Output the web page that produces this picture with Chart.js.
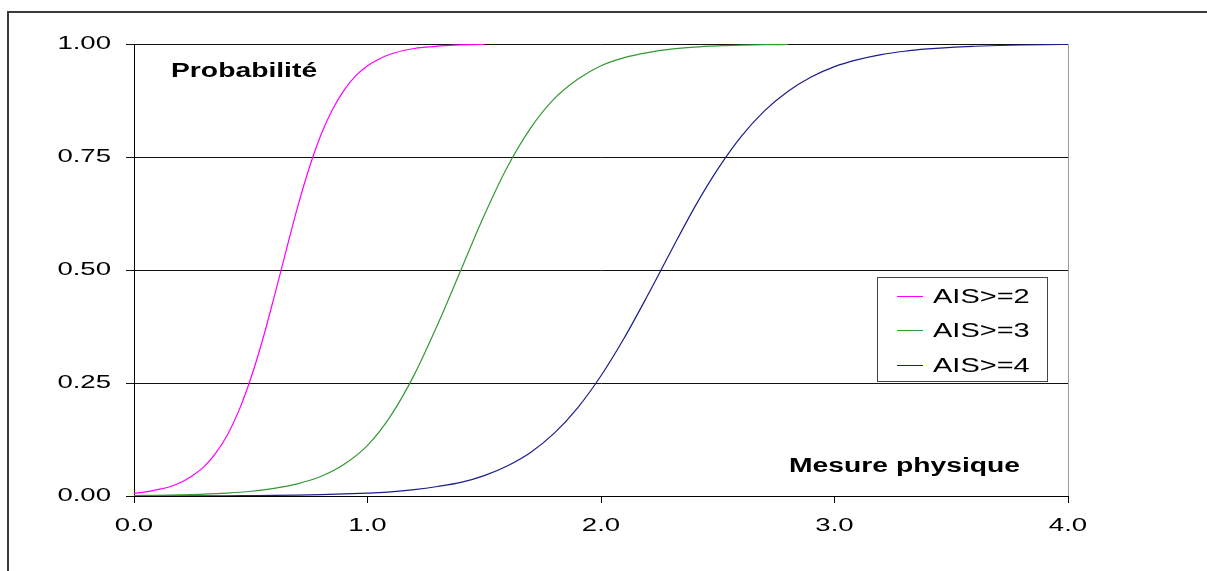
<!DOCTYPE html>
<html>
<head>
<meta charset="utf-8">
<script src="https://cdn.jsdelivr.net/npm/chart.js@4/dist/chart.umd.min.js"></script>
<style>
  html, body { margin: 0; padding: 0; background: #fff; }
  canvas { display: block; }
</style>
</head>
<body>
<canvas id="chart" width="1207" height="571"></canvas>
<script>
// values
const magX = [0, 0.05, 0.1, 0.15, 0.2, 0.25, 0.3, 0.35, 0.4, 0.45, 0.5, 0.55, 0.6, 0.65, 0.7, 0.75,
  0.8, 0.85, 0.9, 0.95, 1.0, 1.05, 1.1, 1.15, 1.2, 1.25, 1.3, 1.35, 1.4, 1.45, 1.5];
const magY = [0.006, 0.009, 0.014, 0.020, 0.030, 0.045, 0.065, 0.095, 0.135, 0.190, 0.260, 0.344,
  0.440, 0.540, 0.638, 0.725, 0.798, 0.855, 0.898, 0.930, 0.952, 0.967, 0.978, 0.985, 0.990,
  0.993, 0.9955, 0.997, 0.998, 0.9987, 0.999];

const greenX = [0, 0.1, 0.2, 0.3, 0.4, 0.5, 0.6, 0.7, 0.8, 0.9, 1.0, 1.1, 1.2, 1.3, 1.4, 1.5, 1.6,
  1.7, 1.8, 1.9, 2.0, 2.1, 2.2, 2.3, 2.4, 2.5, 2.6, 2.7, 2.8];
const greenY = [0.001, 0.0016, 0.0026, 0.004, 0.0065, 0.0105, 0.017, 0.027, 0.043, 0.070, 0.112,
  0.178, 0.268, 0.379, 0.500, 0.621, 0.729, 0.815, 0.879, 0.922, 0.952, 0.970, 0.981, 0.9885,
  0.993, 0.9957, 0.9974, 0.9984, 0.999];

const blueX = [0, 0.1, 0.2, 0.3, 0.4, 0.5, 0.6, 0.7, 0.8, 0.9, 1.0, 1.1, 1.2, 1.3, 1.4, 1.5, 1.6,
  1.7, 1.8, 1.9, 2.0, 2.1, 2.2, 2.3, 2.4, 2.5, 2.6, 2.7, 2.8, 2.9, 3.0, 3.1, 3.2, 3.3, 3.4, 3.5,
  3.6, 3.7, 3.8, 3.9, 4.0];
const blueY = [0.0001, 0.0002, 0.0003, 0.0004, 0.0006, 0.001, 0.0014, 0.002, 0.003, 0.0045, 0.0065,
  0.009, 0.014, 0.021, 0.030, 0.045, 0.067, 0.097, 0.139, 0.195, 0.266,
  0.350, 0.444, 0.542, 0.638, 0.723, 0.795, 0.852, 0.895, 0.927, 0.950,
  0.9655, 0.9766, 0.984, 0.989, 0.9927, 0.995, 0.9967, 0.9978, 0.9985, 0.999];

const seriesLabels = ['AIS>=2', 'AIS>=3', 'AIS>=4'];
const xTicks = [0, 1, 2, 3, 4];
const yTicks = [0, 0.25, 0.5, 0.75, 1];
const yTitle = 'Probabilité';
const xTitle = 'Mesure physique';

const pts = (xs, ys) => xs.map((x, i) => ({ x: x, y: ys[i] }));

// the original looks horizontally stretched, so text gets widened
const STRETCH = 1.45;
function wideText(ctx, text, x, y, align, font) {
  ctx.save();
  ctx.font = font;
  ctx.fillStyle = '#000';
  ctx.textBaseline = 'middle';
  ctx.translate(x, y);
  ctx.scale(STRETCH, 1);
  ctx.textAlign = align;
  ctx.fillText(text, 0, 0);
  ctx.restore();
}

const decor = {
  id: 'decor',
  beforeDraw(chart) {
    const ctx = chart.ctx;
    ctx.save();
    ctx.fillStyle = '#fff';
    ctx.fillRect(0, 0, chart.width, chart.height);
    // outer frame (top and left only visible)
    ctx.strokeStyle = '#3a3a3a';
    ctx.lineWidth = 2;
    ctx.beginPath();
    ctx.moveTo(8, chart.height);
    ctx.lineTo(8, 12);
    ctx.lineTo(chart.width, 12);
    ctx.stroke();
    ctx.restore();
  },
  beforeDatasetsDraw(chart) {
    const ctx = chart.ctx;
    const a = chart.chartArea;
    ctx.save();
    ctx.strokeStyle = '#9a9a9a';
    ctx.lineWidth = 1;
    ctx.beginPath();
    ctx.moveTo(Math.round(a.right) + 0.5, a.top);
    ctx.lineTo(Math.round(a.right) + 0.5, a.bottom);
    ctx.stroke();
    ctx.restore();
  },
  afterDraw(chart) {
    const ctx = chart.ctx;
    const sx = chart.scales.x;
    const sy = chart.scales.y;
    const tickFont = '19px "Liberation Sans", Arial, sans-serif';
    const boldFont = 'bold 19.5px "Liberation Sans", Arial, sans-serif';

    sy.ticks.forEach(t => {
      wideText(ctx, t.value.toFixed(2), 111, sy.getPixelForValue(t.value), 'right', tickFont);
    });
    sx.ticks.forEach(t => {
      wideText(ctx, t.value.toFixed(1), sx.getPixelForValue(t.value), 526, 'center', tickFont);
    });

    wideText(ctx, yTitle, 171, 72, 'left', boldFont);
    wideText(ctx, xTitle, 1020, 467, 'right', boldFont);

    // legend box
    ctx.save();
    ctx.fillStyle = '#fff';
    ctx.fillRect(877, 277, 171, 105);
    ctx.strokeStyle = '#444';
    ctx.lineWidth = 1;
    ctx.strokeRect(877.5, 277.5, 170, 104);
    const rows = [296, 330, 365];
    chart.data.datasets.forEach((ds, i) => {
      ctx.strokeStyle = ds.borderColor;
      ctx.lineWidth = 1;
      ctx.beginPath();
      ctx.moveTo(897, rows[i] + 0.5);
      ctx.lineTo(923, rows[i] + 0.5);
      ctx.stroke();
      wideText(ctx, ds.label, 933, rows[i] + 1, 'left', '20px "Liberation Sans", Arial, sans-serif');
    });
    ctx.restore();
  }
};

const ctx = document.getElementById('chart').getContext('2d');
new Chart(ctx, {
  type: 'line',
  data: {
    datasets: [
      { label: seriesLabels[0], data: pts(magX, magY), borderColor: '#ff00ff' },
      { label: seriesLabels[1], data: pts(greenX, greenY), borderColor: '#339933' },
      { label: seriesLabels[2], data: pts(blueX, blueY), borderColor: '#1c1c8a' },
    ],
  },
  options: {
    responsive: false,
    animation: false,
    events: [],
    layout: { padding: { left: 0, right: 139, top: 44, bottom: 25 } },
    elements: {
      line: { borderWidth: 1.2, cubicInterpolationMode: 'monotone', fill: false },
      point: { radius: 0 },
    },
    plugins: {
      legend: { display: false },
      tooltip: { enabled: false },
      title: { display: false },
    },
    scales: {
      x: {
        type: 'linear',
        min: 0,
        max: 4,
        afterBuildTicks: (s) => { s.ticks = xTicks.map(v => ({ value: v })); },
        afterFit: (s) => { s.height = 50; },
        ticks: { display: false },
        grid: { drawOnChartArea: false, drawTicks: true, tickLength: 7, color: '#000', lineWidth: 1 },
        border: { color: '#000', width: 1 },
      },
      y: {
        type: 'linear',
        min: 0,
        max: 1,
        afterBuildTicks: (s) => { s.ticks = yTicks.map(v => ({ value: v })); },
        afterFit: (s) => { s.width = 134; },
        ticks: { display: false },
        grid: { drawTicks: true, tickLength: 8, color: '#111', lineWidth: 1 },
        border: { color: '#000', width: 1 },
      },
    },
  },
  plugins: [decor],
});
</script>
</body>
</html>
